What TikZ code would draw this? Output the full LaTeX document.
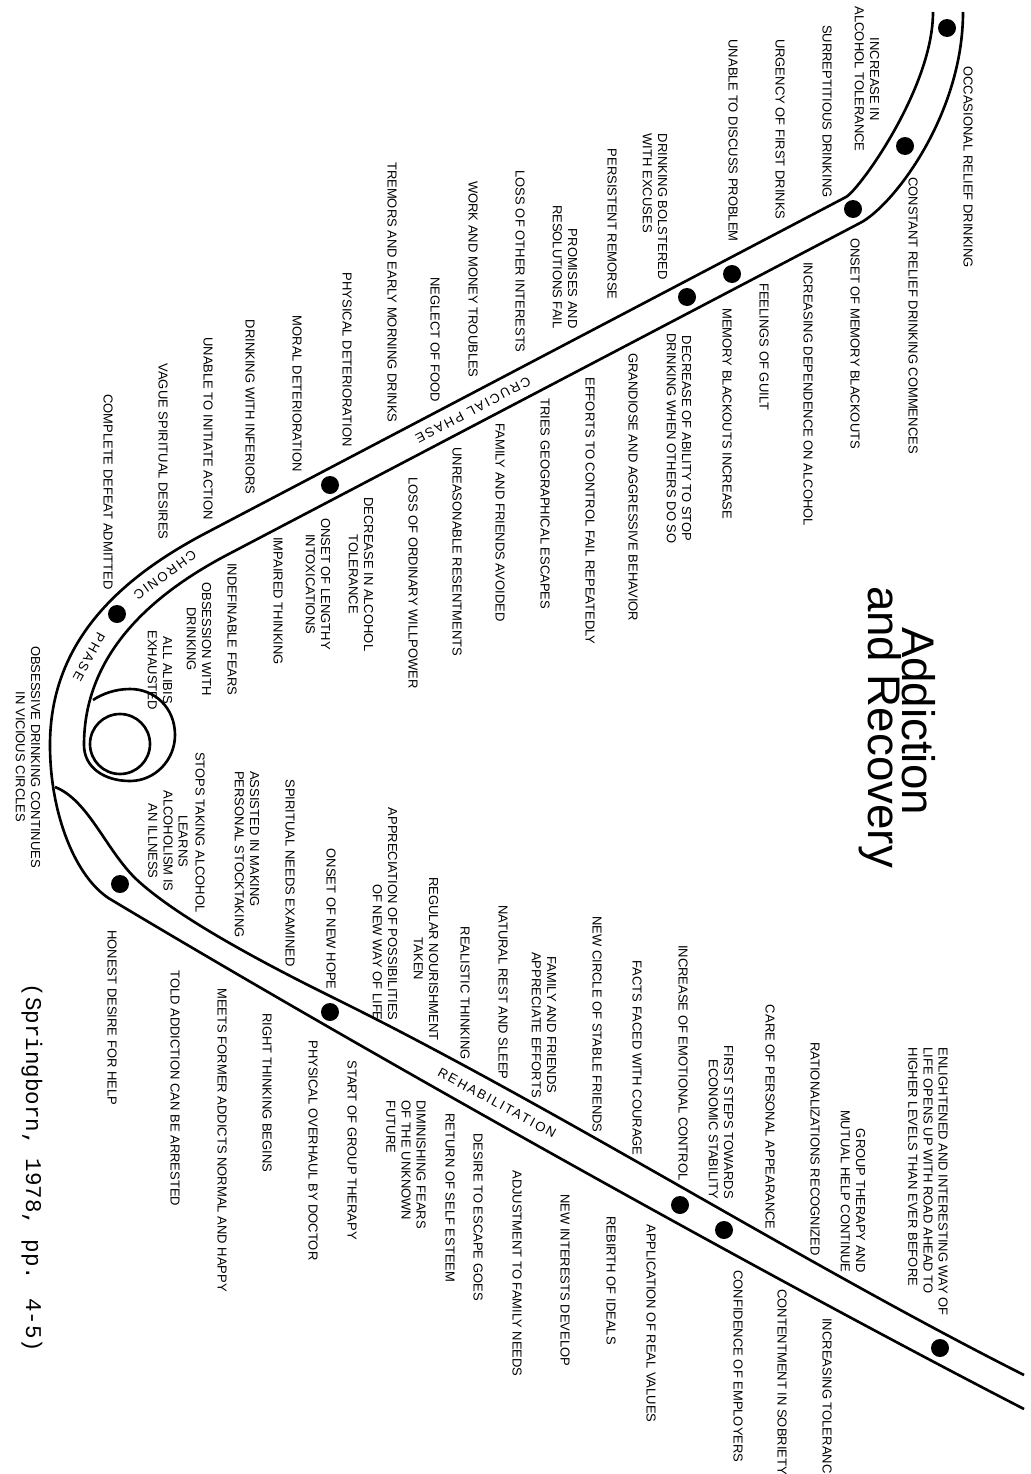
\documentclass[tikz,border=0pt]{standalone}
\usepackage{fontspec}
\setmainfont{Liberation Sans}
\newfontfamily\citefont{Liberation Mono}
\newfontfamily\phasefont[LetterSpace=15]{Liberation Sans}

\tikzset{
  tube/.style={line width=1.5pt, line join=round},
  stage/.style={circle, fill=black, inner sep=0pt, minimum size=0.36cm},
  lbl/.style={rotate=-90, inner sep=0pt, align=center, font=\fontsize{7.4}{8.6}\selectfont},
  toward/.style={lbl, anchor=east},
  away/.style={lbl, anchor=west},
  phase/.style={inner sep=0pt, font=\phasefont\fontsize{7.5}{8}\selectfont},
  heading/.style={rotate=-90, inner sep=0pt, anchor=base, font=\fontsize{26}{28}\selectfont}
}

\begin{document}
\begin{tikzpicture}[x=0.02cm, y=-0.02cm]
    \useasboundingbox (0,0) rectangle (1031,1474);

    % Curve
    \draw[tube] (933,12) .. controls (933,88) and (859,190) .. (846,197) -- (205,533.5)
        .. controls (115,581) and (50,645) .. (50,745)
        .. controls (50,815) and (76,878) .. (110,899)
        .. controls (367,1053) and (764,1275) .. (1024,1409);
    \draw[tube] (963,12) .. controls (963,115) and (893,206) .. (860,223) -- (225,556)
        .. controls (150,596) and (84,655) .. (84,745)
        .. controls (84,768) and (105,781) .. (130,781)
        .. controls (155,781) and (175,760) .. (175,735)
        .. controls (175,708) and (155,689) .. (130,689)
        .. controls (115,689) and (102,694) .. (93,700);
    \draw[tube] (120,744) circle[radius=0.6cm];
    \draw[tube] (55,787) .. controls (88,800) and (105,848) .. (135,878)
        .. controls (178,919) and (275,969) .. (338,1000)
        .. controls (560,1110) and (800,1262) .. (1024,1375);

    % Stages
    \node[stage] (stage1) at (947,28) {};
    \node[stage] (stage2) at (905,146) {};
    \node[stage] (stage3) at (853,209) {};
    \node[stage] (stage4) at (732,274) {};
    \node[stage] (stage5) at (687,297) {};
    \node[stage] (stage6) at (330,485) {};
    \node[stage] (stage7) at (117,614) {};
    \node[stage] (stage8) at (120,884) {};
    \node[stage] (stage9) at (330,1012) {};
    \node[stage] (stage10) at (680,1205) {};
    \node[stage] (stage11) at (724,1230) {};
    \node[stage] (stage12) at (940,1348) {};

    % Phases
    \node[phase, rotate=207.7] (crucial) at (473,410) {CRUCIAL PHASE};
    \node[phase, rotate=215.7] (chronic) at (165,575) {CHRONIC};
    \node[phase, rotate=241.5] (chronic2) at (89,657) {PHASE};
    \node[phase, rotate=-28.5] (rehab) at (497,1103) {REHABILITATION};

    % Labels, descent
    \node[toward] (tolerance) at (867,152) {INCREASE IN\\ALCOHOL TOLERANCE};
    \node[toward] (secret) at (827,198) {SURREPTITIOUS DRINKING};
    \node[toward] (urgency) at (780,220) {URGENCY OF FIRST DRINKS};
    \node[toward] (discuss) at (733,242) {UNABLE TO DISCUSS PROBLEM};
    \node[toward, align=left] (excuses) at (655,280) {DRINKING BOLSTERED\\WITH EXCUSES};
    \node[toward] (remorse) at (612,300) {PERSISTENT REMORSE};
    \node[toward, align=right] (promises) at (565,329) {PROMISES AND\\RESOLUTIONS FAIL};
    \node[toward] (interests) at (520,353) {LOSS OF OTHER INTERESTS};
    \node[toward] (money) at (473,378) {WORK AND MONEY TROUBLES};
    \node[toward] (food) at (435,402) {NEGLECT OF FOOD};
    \node[toward] (tremors) at (392,423) {TREMORS AND EARLY MORNING DRINKS};
    \node[toward] (physical) at (347,447) {PHYSICAL DETERIORATION};
    \node[toward] (moral) at (297,472) {MORAL DETERIORATION};
    \node[toward] (inferiors) at (250,495) {DRINKING WITH INFERIORS};
    \node[toward] (action) at (208,520) {UNABLE TO INITIATE ACTION};
    \node[toward] (desires) at (163,540) {VAGUE SPIRITUAL DESIRES};
    \node[toward] (defeat) at (108,590) {COMPLETE DEFEAT ADMITTED};
    \node[lbl] (circles) at (28,757) {OBSESSIVE DRINKING CONTINUES\\IN VICIOUS CIRCLES};

    \node[away] (occasional) at (968,66) {OCCASIONAL RELIEF DRINKING};
    \node[away] (constant) at (913,177) {CONSTANT RELIEF DRINKING COMMENCES};
    \node[away] (onset) at (855,238) {ONSET OF MEMORY BLACKOUTS};
    \node[away] (dependence) at (808,262) {INCREASING DEPENDENCE ON ALCOHOL};
    \node[away] (guilt) at (764,283) {FEELINGS OF GUILT};
    \node[away] (blackouts) at (727,308) {MEMORY BLACKOUTS INCREASE};
    \node[away] (ability) at (679,333) {DECREASE OF ABILITY TO STOP\\DRINKING WHEN OTHERS DO SO};
    \node[away] (grandiose) at (633,353) {GRANDIOSE AND AGGRESSIVE BEHAVIOR};
    \node[away] (efforts) at (590,377) {EFFORTS TO CONTROL FAIL REPEATEDLY};
    \node[away] (escapes) at (545,398) {TRIES GEOGRAPHICAL ESCAPES};
    \node[away] (avoided) at (500,423) {FAMILY AND FRIENDS AVOIDED};
    \node[away] (resentments) at (457,447) {UNREASONABLE RESENTMENTS};
    \node[away] (willpower) at (413,477) {LOSS OF ORDINARY WILLPOWER};
    \node[away] (decrease) at (361,497) {DECREASE IN ALCOHOL\\TOLERANCE};
    \node[away] (lengthy) at (318,518) {ONSET OF LENGTHY\\INTOXICATIONS};
    \node[away] (impaired) at (278,537) {IMPAIRED THINKING};
    \node[away] (fears) at (232,563) {INDEFINABLE FEARS};
    \node[away] (obsession) at (199,582) {OBSESSION WITH\\DRINKING};
    \node[away] (alibis) at (160,630) {ALL ALIBIS\\EXHAUSTED};

    % Labels, recovery
    \node[toward] (stops) at (200,913) {STOPS TAKING ALCOHOL};
    \node[toward] (illness) at (168,892) {LEARNS\\ALCOHOLISM IS\\AN ILLNESS};
    \node[toward, align=left] (stocktaking) at (247,938) {ASSISTED IN MAKING\\PERSONAL STOCKTAKING};
    \node[toward] (needs) at (290,967) {SPIRITUAL NEEDS EXAMINED};
    \node[toward] (hope) at (331,990) {ONSET OF NEW HOPE};
    \node[toward, align=right] (appreciation) at (385,1021) {APPRECIATION OF POSSIBILITIES\\OF NEW WAY OF LIFE};
    \node[toward] (nourishment) at (426,1041) {REGULAR NOURISHMENT\\TAKEN};
    \node[toward] (realistic) at (465,1060) {REALISTIC THINKING};
    \node[toward] (rest) at (503,1080) {NATURAL REST AND SLEEP};
    \node[toward] (appreciate) at (544,1098) {FAMILY AND FRIENDS\\APPRECIATE EFFORTS};
    \node[toward] (friends) at (597,1133) {NEW CIRCLE OF STABLE FRIENDS};
    \node[toward] (courage) at (637,1156) {FACTS FACED WITH COURAGE};
    \node[toward] (emotional) at (683,1181) {INCREASE OF EMOTIONAL CONTROL};
    \node[toward, align=right] (economic) at (721,1199) {FIRST STEPS TOWARDS\\ECONOMIC STABILITY};
    \node[toward] (appearance) at (770,1230) {CARE OF PERSONAL APPEARANCE};
    \node[toward] (rational) at (815,1256) {RATIONALIZATIONS RECOGNIZED};
    \node[toward, align=right] (group) at (853,1273) {GROUP THERAPY AND\\MUTUAL HELP CONTINUE};
    \node[toward, align=left] (enlightened) at (928,1316) {ENLIGHTENED AND INTERESTING WAY OF\\LIFE OPENS UP WITH ROAD AHEAD TO\\HIGHER LEVELS THAN EVER BEFORE};

    \node[away] (honest) at (112,930) {HONEST DESIRE FOR HELP};
    \node[away] (arrested) at (175,970) {TOLD ADDICTION CAN BE ARRESTED};
    \node[away] (meets) at (222,988) {MEETS FORMER ADDICTS NORMAL AND HAPPY};
    \node[away] (right) at (267,1013) {RIGHT THINKING BEGINS};
    \node[away] (overhaul) at (313,1040) {PHYSICAL OVERHAUL BY DOCTOR};
    \node[away] (therapy) at (352,1060) {START OF GROUP THERAPY};
    \node[away, align=left] (unknown) at (406,1100) {DIMINISHING FEARS\\OF THE UNKNOWN\\FUTURE};
    \node[away] (esteem) at (450,1113) {RETURN OF SELF ESTEEM};
    \node[away] (escape) at (478,1133) {DESIRE TO ESCAPE GOES};
    \node[away] (family) at (517,1170) {ADJUSTMENT TO FAMILY NEEDS};
    \node[away] (develop) at (565,1194) {NEW INTERESTS DEVELOP};
    \node[away] (ideals) at (611,1216) {REBIRTH OF IDEALS};
    \node[away] (values) at (651,1224) {APPLICATION OF REAL VALUES};
    \node[away] (employers) at (738,1270) {CONFIDENCE OF EMPLOYERS};
    \node[away] (sobriety) at (782,1289) {CONTENTMENT IN SOBRIETY};
    \node[away] (increasing) at (827,1318) {INCREASING TOLERANCE};

    % Title and source
    \node[heading] (title) at (902,721) {Addiction};
    \node[heading] (title2) at (868,727) {and Recovery};
    \node[rotate=-90, inner sep=0pt, font=\citefont\fontsize{12.8}{14}\selectfont] (source) at (32,1168) {(Springborn, 1978, pp. 4-5)};
\end{tikzpicture}
\end{document}
